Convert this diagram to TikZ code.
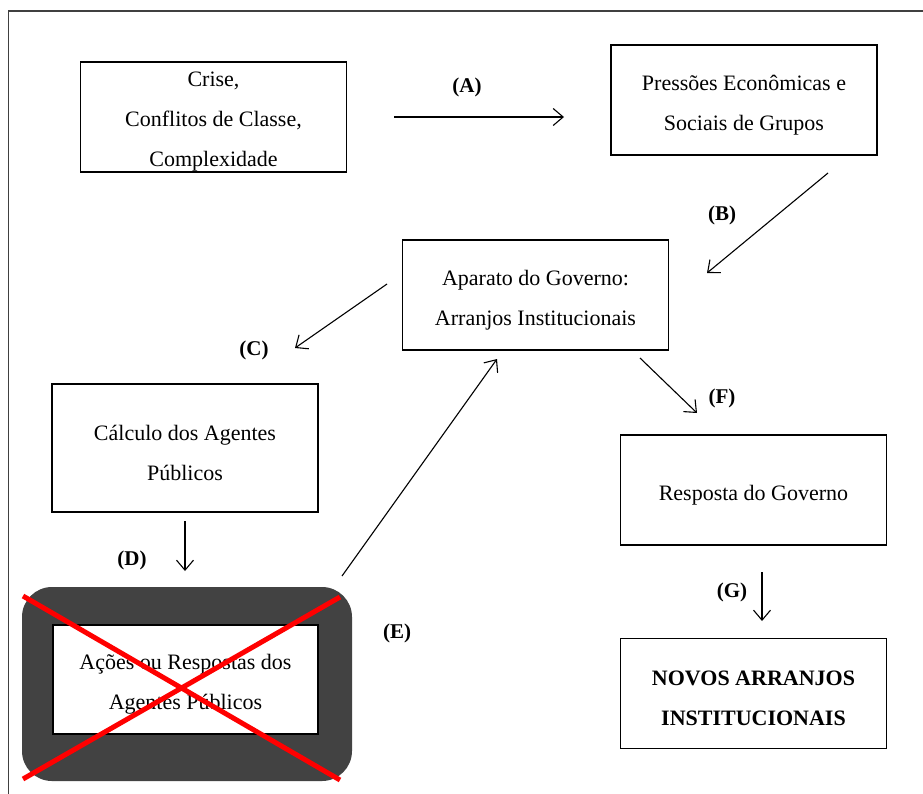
\documentclass[tikz,border=0pt]{standalone}
\usepackage{fontspec}
\setmainfont{Liberation Serif}
\usetikzlibrary{arrows.meta}
\definecolor{framegray}{HTML}{404040}
\definecolor{shadegray}{HTML}{424242}
\tikzset{
  every picture/.style={x=1pt,y=-1pt},
  box/.style={draw=black,line width=1.2pt,fill=white,rectangle,inner sep=0pt,
    minimum width=266pt,minimum height=110pt},
  boxtext/.style={inner sep=0pt,align=center,yshift=-5pt,
    font=\fontsize{22}{40}\selectfont},
  tag/.style={font=\fontsize{21}{24}\selectfont\bfseries,inner sep=0pt},
  flow/.style={line width=1.1pt,-{Straight Barb[length=10pt,width=17pt,line width=1.1pt]}},
  cross/.style={red,line width=5pt}
}
\begin{document}
\begin{tikzpicture}
\useasboundingbox (0,0) rectangle (923,793);
\clip (0,0) rectangle (923,793);
\fill[white] (0,0) rectangle (923,793);
% outer frame, running past the right and bottom edges
\draw[framegray,line width=1.4pt] (8.5,11) rectangle (940,810);

% boxes and their texts
\node[box] (crise) at (213.5,117) {};
\node[boxtext] (crise-t) at (crise) {Crise,\\Conflitos de Classe,\\Complexidade};
\node[box] (press) at (744,100) {};
\node[boxtext] (press-t) at (press) {Pressões Econômicas e\\Sociais de Grupos};
\node[box] (apar) at (535.5,295) {};
\node[boxtext] (apar-t) at (apar) {Aparato do Governo:\\Arranjos Institucionais};
\node[box,minimum height=128pt] (calc) at (185,448) {};
\node[boxtext] (calc-t) at (calc) {Cálculo dos Agentes\\Públicos};
\node[box] (resp) at (753.5,490) {};
\node[boxtext] (resp-t) at (resp) {Resposta do Governo};
\node[box] (novos) at (753.5,693.5) {};
\node[boxtext,font=\fontsize{22}{40}\selectfont\bfseries] (novos-t) at (novos) {NOVOS ARRANJOS\\INSTITUCIONAIS};

% shaded frame around the crossed-out box
\node[fill=shadegray,rounded corners=30pt,minimum width=330pt,minimum height=194pt,inner sep=0pt] (shade) at (187,684) {};
\node[box,minimum width=265pt,minimum height=109pt] (acoes) at (185.5,679.5) {};
\node[boxtext] (acoes-t) at (acoes) {Ações ou Respostas dos\\Agentes Públicos};

% red cross
\coordinate (x1) at (23,596);
\coordinate (x2) at (340,780);
\coordinate (x3) at (340,597);
\coordinate (x4) at (23,779);
\draw[cross] (x1) -- (x2);
\draw[cross] (x3) -- (x4);

% arrow end points
\coordinate (a1) at (394,117);  \coordinate (a2) at (564,117);
\coordinate (b1) at (828,173);  \coordinate (b2) at (707,273);
\coordinate (c1) at (387,284);  \coordinate (c2) at (295,348);
\coordinate (d1) at (185,521);  \coordinate (d2) at (185,571);
\coordinate (e1) at (342,576);  \coordinate (e2) at (497,359);
\coordinate (f1) at (640,358);  \coordinate (f2) at (697,413);
\coordinate (g1) at (762,572);  \coordinate (g2) at (762,621);

\draw[flow] (a1) -- (a2);
\draw[flow] (b1) -- (b2);
\draw[flow] (c1) -- (c2);
\draw[flow] (d1) -- (d2);
\draw[flow] (e1) -- (e2);
\draw[flow] (f1) -- (f2);
\draw[flow] (g1) -- (g2);

% labels
\node[tag] (la) at (467,87) {(A)};
\node[tag] (lb) at (722,215) {(B)};
\node[tag] (lc) at (254,350) {(C)};
\node[tag] (ld) at (132,560) {(D)};
\node[tag] (le) at (397,633) {(E)};
\node[tag] (lf) at (722,398) {(F)};
\node[tag] (lg) at (732,592) {(G)};
\end{tikzpicture}
\end{document}
